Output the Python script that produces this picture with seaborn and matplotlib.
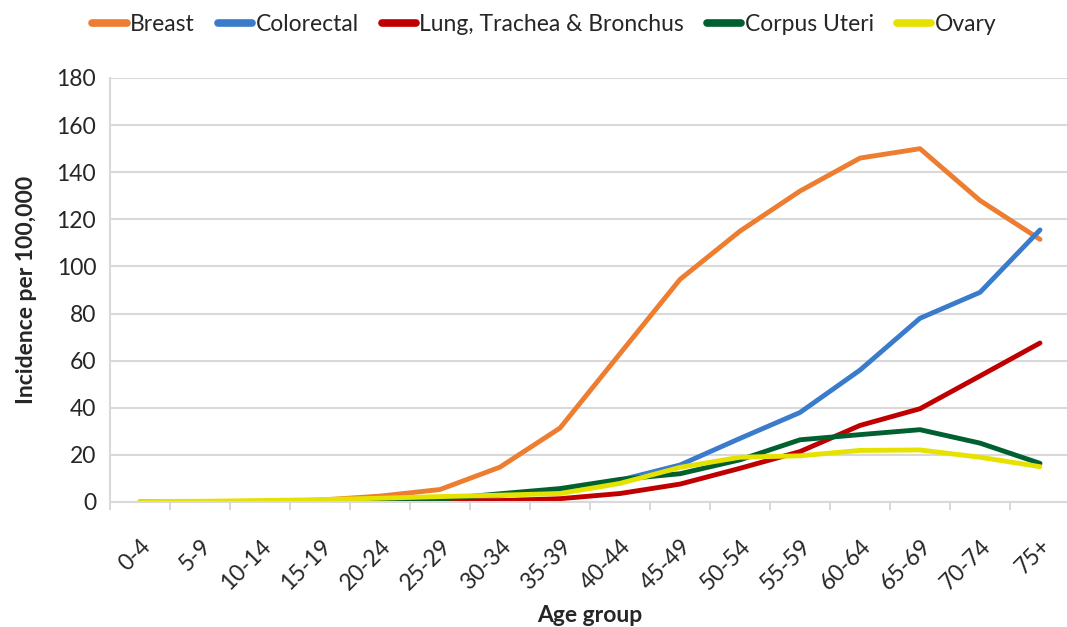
import matplotlib
matplotlib.use('Agg')
import matplotlib.pyplot as plt
import seaborn as sns
import pandas as pd
import numpy as np

# Data
age_groups = ['0-4', '5-9', '10-14', '15-19', '20-24', '25-29', '30-34', '35-39',
              '40-44', '45-49', '50-54', '55-59', '60-64', '65-69', '70-74', '75+']
breast = [0, 0, 0.2, 0.8, 2.5, 5.3, 14.8, 31.4, 63, 94.5, 115, 132, 146, 150, 128, 111.5]
colorectal = [0, 0.1, 0.3, 0.6, 1, 1.6, 2.8, 5, 9.3, 15.7, 27, 38, 56, 78, 89, 115.5]
lung = [0, 0, 0.1, 0.2, 0.3, 0.4, 0.6, 1.4, 3.6, 7.6, 14.3, 21.4, 32.5, 39.6, 53.5, 67.5]
corpus_uteri = [0, 0, 0.1, 0.2, 0.5, 1.2, 3.5, 5.7, 9.6, 12, 17.9, 26.4, 28.6, 30.7, 25, 16.4]
ovary = [0.2, 0.3, 0.6, 1, 1.6, 2.3, 2.9, 3.6, 7.9, 14.7, 19, 19.6, 21.9, 22.1, 19, 15]

series_names = ['Breast', 'Colorectal', 'Lung, Trachea & Bronchus', 'Corpus Uteri', 'Ovary']
series_values = [breast, colorectal, lung, corpus_uteri, ovary]
colors = ['#ED7D31', '#3A7BCC', '#C00000', '#006030', '#E6E200']

# long-form table for seaborn
rows = []
for name, vals in zip(series_names, series_values):
    for i, v in enumerate(vals):
        rows.append({'pos': i, 'age': age_groups[i], 'site': name, 'rate': v})
df = pd.DataFrame(rows)

sns.set_style('white')
plt.rcParams['font.family'] = ['Lato', 'DejaVu Sans']

fig = plt.figure(figsize=(10.67, 6.27), dpi=100)
ax = fig.add_axes([110 / 1067, 125 / 627, 960 / 1067, 424 / 627])

sns.lineplot(data=df, x='pos', y='rate', hue='site', hue_order=series_names,
             palette=colors, linewidth=3.5, sort=False, ax=ax, legend=True)

ax.set_xlim(-0.5, len(age_groups) - 0.5)
ax.set_ylim(0, 180)
ax.set_yticks(range(0, 181, 20))
ax.set_xticks(range(len(age_groups)))
ax.set_xticks(np.arange(-0.5, len(age_groups), 1), minor=True)
ax.set_xticklabels(age_groups, rotation=45, ha='right', rotation_mode='anchor')

grid_col = '#D9D9D9'
ax.yaxis.grid(True, color=grid_col, linewidth=1.5)
ax.xaxis.grid(False)
for s in ['top', 'right']:
    ax.spines[s].set_visible(False)
for s in ['left', 'bottom']:
    ax.spines[s].set_color(grid_col)
    ax.spines[s].set_linewidth(1.5)
ax.set_axisbelow(True)

fs = 16.5
ax.tick_params(axis='y', which='major', length=6, color=grid_col, width=1.5,
               labelsize=fs, labelcolor='#262626', pad=4)
ax.tick_params(axis='x', which='major', length=0, labelsize=fs, labelcolor='#262626', pad=24)
ax.tick_params(axis='x', which='minor', length=6, color=grid_col, width=1.5, bottom=True)

ax.set_xlabel('Age group', fontsize=fs, fontweight='bold', color='#262626', labelpad=8)
ax.set_ylabel('Incidence per 100,000', fontsize=fs, fontweight='bold', color='#262626', labelpad=14)

handles, labels = ax.get_legend_handles_labels()
for h in handles:
    h.set_linewidth(5.5)
ax.get_legend().remove()
fig.legend(handles, labels, loc='upper center', bbox_to_anchor=(0.51, 1.01), ncol=5,
           frameon=False, fontsize=fs, handlelength=1.5, handletextpad=0.15,
           columnspacing=1.0, labelcolor='#262626')

fig.savefig('out.png', dpi=100)
